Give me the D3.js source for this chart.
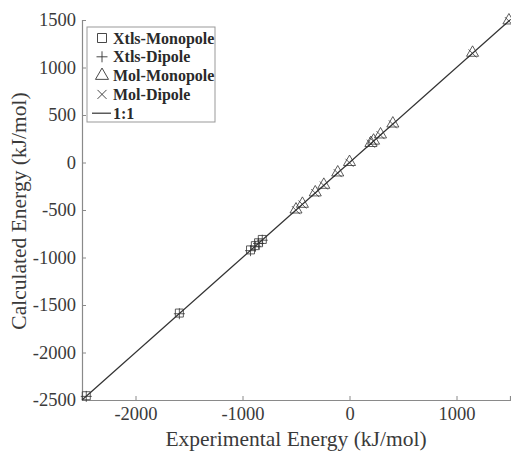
<!DOCTYPE html>
<html><head><meta charset="utf-8">
<script src="https://cdn.jsdelivr.net/npm/d3@7"></script>
<style>body{margin:0;background:#fff}svg{display:block}</style>
</head><body>
<script>
// Data
const xtlsExp   = [-2460, -1590, -925, -880, -850, -815];
const xtlsMono  = [-2455, -1585, -920, -875, -845, -810];
const xtlsDip   = [-2462, -1592, -928, -882, -852, -818];
const molExp    = [1490, 1150, 405, 290, 225, 200, 0, -110, -240, -320, -440, -500];
const molMono   = [1495, 1155, 410, 295, 230, 205, 5, -105, -235, -315, -435, -495];
const molDip    = [1488, 1148, 402, 288, 222, 198, -3, -112, -242, -322, -442, -502];
const xTicks = [-2000, -1000, 0, 1000];
const yTicks = [-2500, -2000, -1500, -1000, -500, 0, 500, 1000, 1500];
const legendLabels = ["Xtls-Monopole", "Xtls-Dipole", "Mol-Monopole", "Mol-Dipole", "1:1"];

const W = 511, H = 451;
const m = {l: 82, r: 1, t: 20, b: 51};
const svg = d3.select("body").append("svg").attr("width", W).attr("height", H);
const x = d3.scaleLinear().domain([-2500, 1500]).range([m.l, W - m.r]);
const y = d3.scaleLinear().domain([-2500, 1500]).range([H - m.b, m.t]);
const font = "'Liberation Serif', serif";
const txt = "#3a3a3a", axc = "#8a8a8a", mk = "#333";

// axes
const gx = svg.append("g").attr("transform", `translate(0,${H - m.b})`)
  .call(d3.axisBottom(x).tickValues(xTicks).tickSize(-4).tickPadding(7).tickFormat(d3.format("d")));
const gy = svg.append("g").attr("transform", `translate(${m.l},0)`)
  .call(d3.axisLeft(y).tickValues(yTicks).tickSize(-4).tickPadding(6).tickFormat(d3.format("d")));
[gx, gy].forEach(g => {
  g.select(".domain").attr("stroke", axc).attr("stroke-width", 1.2);
  g.selectAll(".tick line").attr("stroke", axc);
  g.selectAll(".tick text").attr("fill", txt).style("font-family", font).style("font-size", "18.5px");
});
gx.selectAll(".tick text").text(d => d < 0 ? "-" + Math.abs(d) : d);
gy.selectAll(".tick text").text(d => d < 0 ? "-" + Math.abs(d) : d);

// titles
svg.append("text").attr("x", 296).attr("y", 446).attr("text-anchor", "middle")
  .attr("fill", txt).style("font-family", font).style("font-size", "21.5px").text("Experimental Energy (kJ/mol)");
svg.append("text").attr("transform", `translate(26,211) rotate(-90)`).attr("text-anchor", "middle")
  .attr("fill", txt).style("font-family", font).style("font-size", "21.5px").text("Calculated Energy (kJ/mol)");

// 1:1 line
svg.append("line").attr("x1", x(-2500)).attr("y1", y(-2500)).attr("x2", x(1500)).attr("y2", y(1500))
  .attr("stroke", "#333").attr("stroke-width", 1.2);

// marker paths
function mpath(type, s) {
  const h = s / 2;
  if (type === "square") return `M${-h},${-h}H${h}V${h}H${-h}Z`;
  if (type === "plus") return `M${-h},0H${h}M0,${-h}V${h}`;
  if (type === "tri") { const r = s * 0.58; return `M0,${-r}L${r * 0.866},${r * 0.5}L${-r * 0.866},${r * 0.5}Z`; }
  if (type === "times") return `M${-h},${-h}L${h},${h}M${h},${-h}L${-h},${h}`;
}
function drawSeries(xs, ys, type, s) {
  svg.append("g").selectAll("path").data(xs).join("path")
    .attr("transform", (d, i) => `translate(${x(d)},${y(ys[i])})`)
    .attr("d", mpath(type, s)).attr("fill", "none").attr("stroke", mk).attr("stroke-width", 0.8);
}
drawSeries(xtlsExp, xtlsMono, "square", 8);
drawSeries(xtlsExp, xtlsDip, "plus", 11);
drawSeries(molExp, molMono, "tri", 12);
drawSeries(molExp, molDip, "times", 8);

// legend
const lg = svg.append("g");
lg.append("rect").attr("x", 87).attr("y", 27).attr("width", 128).attr("height", 95)
  .attr("fill", "#fff").attr("stroke", "#999").attr("stroke-width", 1);
const types = ["square", "plus", "tri", "times", "line"];
const sizes = [9, 11, 13, 9, 0];
legendLabels.forEach((lab, i) => {
  const cy = 38 + i * 18.8;
  if (types[i] === "line") {
    lg.append("line").attr("x1", 92).attr("x2", 111).attr("y1", cy).attr("y2", cy).attr("stroke", "#333").attr("stroke-width", 1.2);
  } else {
    lg.append("path").attr("transform", `translate(102,${cy})`).attr("d", mpath(types[i], sizes[i]))
      .attr("fill", "none").attr("stroke", mk).attr("stroke-width", 0.9);
  }
  lg.append("text").attr("x", 113).attr("y", cy + 5.5).attr("fill", "#2a2a2a")
    .style("font-family", font).style("font-size", "16px").style("font-weight", "bold").text(lab);
});
</script>
</body></html>
